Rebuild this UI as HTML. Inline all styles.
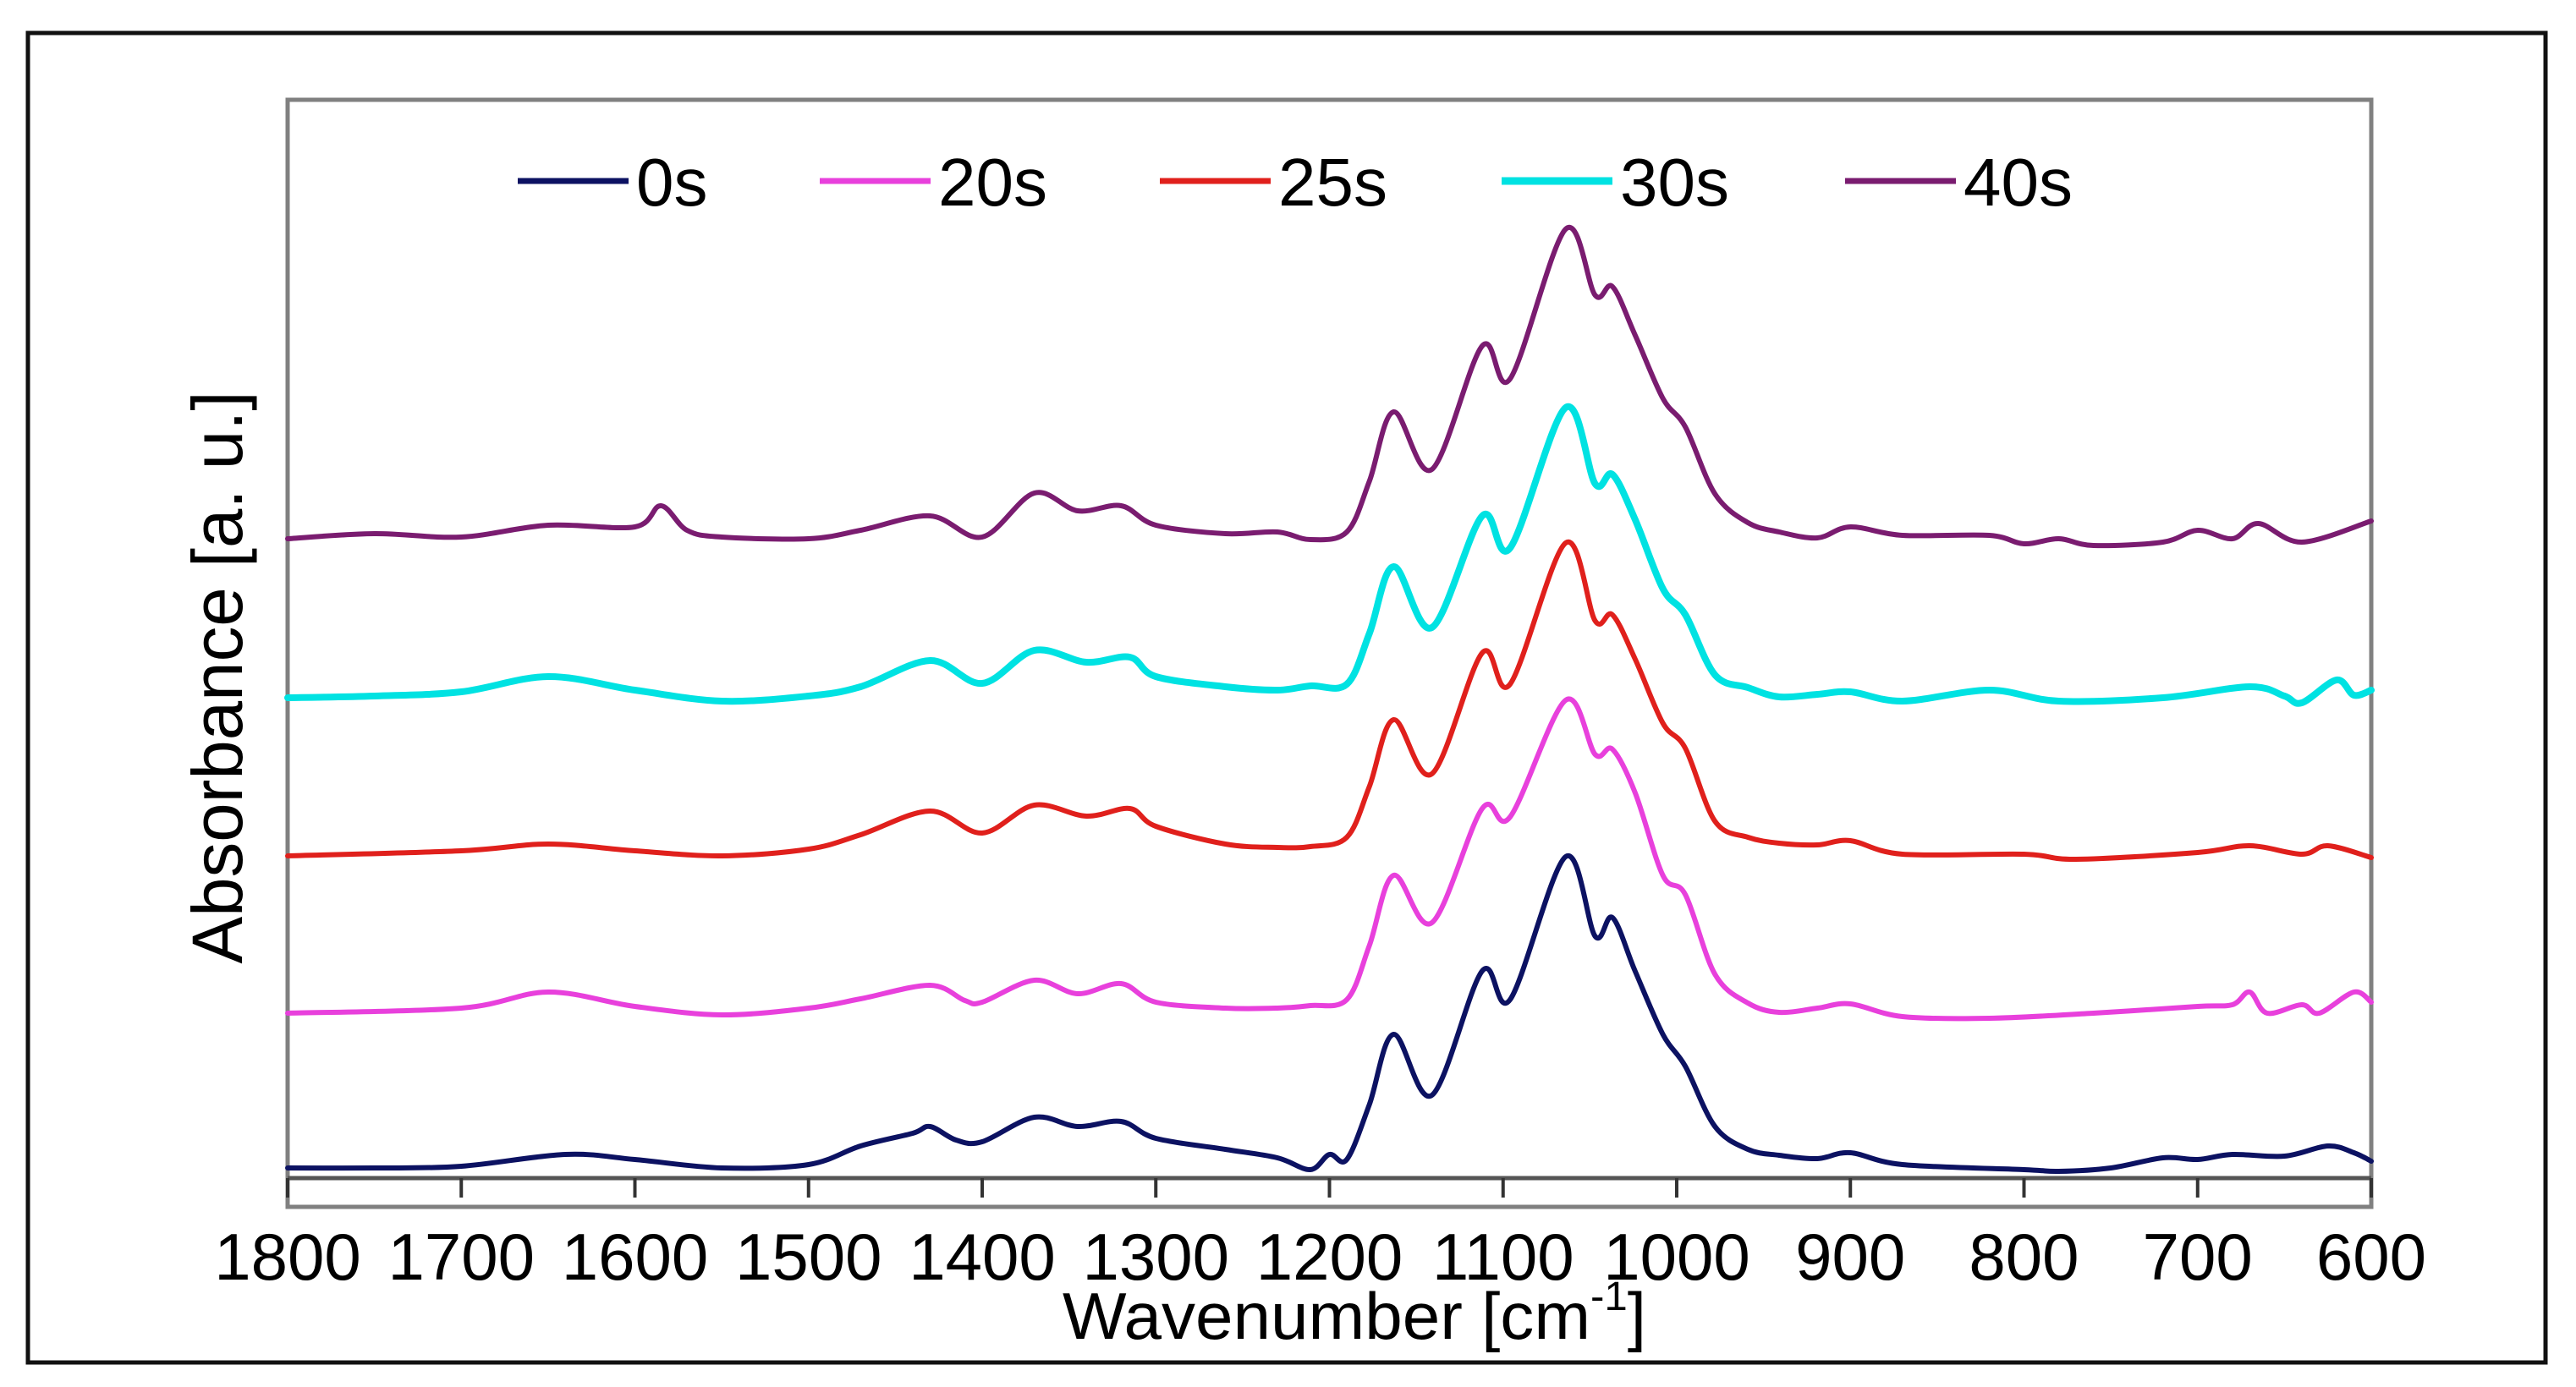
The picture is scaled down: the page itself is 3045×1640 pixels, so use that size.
<!DOCTYPE html>
<html><head><meta charset="utf-8"><style>
html,body{margin:0;padding:0;background:#fff;}
svg{display:block;font-family:"Liberation Sans",Arial,sans-serif;}
</style></head><body>
<svg id="chart" width="3045" height="1640" viewBox="0 0 3045 1640" xmlns="http://www.w3.org/2000/svg">
<rect x="33" y="39" width="2976" height="1572" fill="#fff" stroke="#111" stroke-width="5"/>
<rect x="340" y="118" width="2463" height="1309" fill="#fff" stroke="#808080" stroke-width="5"/>
<g id="series"></g>
<line x1="340" y1="1393" x2="2803" y2="1393" stroke="#555" stroke-width="5"/>
<g id="ticks"></g>
<text x="1256" y="1583" font-size="78" textLength="690" lengthAdjust="spacingAndGlyphs">Wavenumber [cm<tspan font-size="48" dy="-34">-1</tspan><tspan dy="34">]</tspan></text>
<text transform="translate(286,801) rotate(-90)" text-anchor="middle" font-size="84" textLength="677" lengthAdjust="spacingAndGlyphs">Absorbance [a. u.]</text>
<g id="legend"></g>
</svg>
<script>
const xTicks = [1800,1700,1600,1500,1400,1300,1200,1100,1000,900,800,700,600];
const seriesNames = ["0s","20s","25s","30s","40s"];
const seriesColors = ["#0c1262","#e840dc","#e0201c","#00e2e2","#7a1c70"];
const s0 = [[1800,12],[1750,12],[1700,14],[1640,28],[1600,22],[1550,12],[1500,16],[1470,38],[1440,53],[1430,61],[1415,45],[1400,43],[1370,72],[1345,61],[1320,67],[1300,47],[1260,34],[1230,24],[1211,10],[1200,28],[1190,22],[1177,87],[1163,170],[1141,98],[1112,245],[1096,211],[1064,380],[1047,286],[1037,308],[1024,245],[1008,170],[995,132],[978,61],[959,34],[941,27],[919,23],[900,30],[870,16],[800,10],[780,8],[750,12],[720,24],[700,22],[680,28],[650,26],[625,38],[610,30],[600,20]];
const s20 = [[1800,195],[1700,201],[1650,220],[1600,203],[1550,193],[1500,201],[1470,212],[1430,228],[1410,210],[1400,208],[1370,234],[1345,218],[1320,230],[1300,208],[1260,201],[1230,201],[1211,204],[1190,211],[1177,275],[1163,358],[1141,302],[1112,437],[1096,427],[1064,565],[1047,501],[1037,507],[1024,456],[1008,358],[995,335],[978,241],[959,207],[941,196],[919,201],[900,206],[870,191],[820,189],[760,195],[700,203],[680,205],[670,220],[660,195],[640,205],[630,195],[610,220],[600,208]];
const s25 = [[1800,381],[1700,387],[1650,395],[1600,387],[1550,381],[1500,389],[1470,406],[1430,434],[1400,408],[1370,441],[1340,428],[1315,437],[1300,416],[1260,395],[1230,391],[1211,392],[1190,403],[1177,463],[1163,542],[1141,478],[1112,621],[1096,584],[1064,751],[1047,659],[1037,666],[1024,614],[1008,538],[995,508],[978,422],[959,403],[941,396],[919,394],[900,399],[870,383],[800,383],[770,377],[700,385],[670,393],[640,383],[625,393],[600,379]];
const s30 = [[1800,568],[1750,570],[1700,575],[1650,593],[1600,577],[1550,564],[1500,570],[1470,581],[1430,612],[1400,585],[1370,624],[1340,610],[1315,616],[1300,593],[1260,581],[1230,577],[1211,582],[1190,584],[1177,644],[1163,723],[1141,651],[1112,783],[1096,745],[1064,911],[1047,821],[1037,832],[1024,779],[1008,697],[995,666],[978,595],[959,580],[941,569],[919,572],[900,575],[870,564],[820,577],[780,564],[720,568],[670,581],[650,570],[640,562],[620,589],[610,571],[600,577]];
const s40 = [[1800,756],[1750,762],[1700,758],[1650,772],[1600,770],[1585,795],[1570,766],[1550,758],[1500,756],[1470,766],[1430,783],[1400,758],[1370,810],[1345,789],[1320,795],[1300,772],[1260,762],[1230,764],[1211,755],[1190,764],[1177,824],[1163,906],[1141,838],[1112,984],[1096,945],[1064,1122],[1047,1044],[1037,1054],[1024,997],[1008,922],[995,888],[978,809],[959,775],[941,764],[919,757],[900,770],[870,760],[820,760],[800,750],[780,756],[760,748],[720,752],[700,766],[680,756],[665,774],[640,752],[600,777]];
const allSeries = [s0,s20,s25,s30,s40];
const NS='http://www.w3.org/2000/svg';
function xScale(wn){return 340 + (1800 - wn) * (2463/1200);}
function yScale(h){return 1393 - h;}
function smoothPath(pts){
  let d='M'+pts[0][0].toFixed(1)+','+pts[0][1].toFixed(1);
  for(let i=0;i<pts.length-1;i++){
    const p0=pts[Math.max(0,i-1)],p1=pts[i],p2=pts[i+1],p3=pts[Math.min(pts.length-1,i+2)];
    const c1x=p1[0]+(p2[0]-p0[0])/6,c1y=p1[1]+(p2[1]-p0[1])/6;
    const c2x=p2[0]-(p3[0]-p1[0])/6,c2y=p2[1]-(p3[1]-p1[1])/6;
    d+='C'+c1x.toFixed(1)+','+c1y.toFixed(1)+' '+c2x.toFixed(1)+','+c2y.toFixed(1)+' '+p2[0].toFixed(1)+','+p2[1].toFixed(1);
  }
  return d;
}
const sg=document.getElementById('series');
allSeries.forEach(function(s,i){
  const p=document.createElementNS(NS,'path');
  const pts=s.map(function(pt){return [xScale(pt[0]),yScale(pt[1])];});
  p.setAttribute('d',smoothPath(pts));
  p.setAttribute('fill','none');
  p.setAttribute('stroke',seriesColors[i]);
  p.setAttribute('stroke-width',i===3?8:6);
  p.setAttribute('stroke-linejoin','round');
  p.setAttribute('stroke-linecap','round');
  
  
  sg.appendChild(p);
});
const tg=document.getElementById('ticks');
xTicks.forEach(function(t){
  const x=xScale(t);
  const l=document.createElementNS(NS,'line');
  l.setAttribute('x1',x);l.setAttribute('x2',x);l.setAttribute('y1',1393);l.setAttribute('y2',1416);
  l.setAttribute('stroke','#333');l.setAttribute('stroke-width',4);
  
  
  tg.appendChild(l);
  const tx=document.createElementNS(NS,'text');
  tx.setAttribute('x',x);tx.setAttribute('y',1513);
  tx.setAttribute('text-anchor','middle');tx.setAttribute('font-size','78');
  tx.textContent=t;
  
  
  tg.appendChild(tx);
});
const lg=document.getElementById('legend');
const legendX=[612,969,1371,1775,2181];
seriesNames.forEach(function(n,i){
  const l=document.createElementNS(NS,'line');
  l.setAttribute('x1',legendX[i]);l.setAttribute('x2',legendX[i]+131);
  l.setAttribute('y1',214);l.setAttribute('y2',214);
  l.setAttribute('stroke',seriesColors[i]);l.setAttribute('stroke-width',i===3?9:7);
  
  
  lg.appendChild(l);
  const t=document.createElementNS(NS,'text');
  t.setAttribute('x',legendX[i]+140);t.setAttribute('y',243);
  t.setAttribute('font-size','80');
  t.textContent=n;
  
  
  lg.appendChild(t);
});
</script>
</body></html>
